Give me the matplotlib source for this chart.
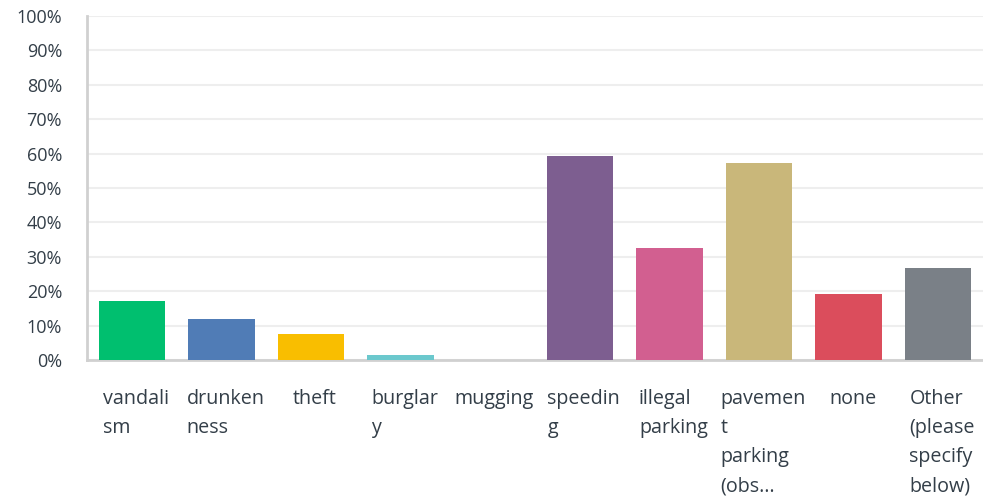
import numpy as np
import matplotlib.pyplot as plt
from matplotlib.ticker import PercentFormatter
from matplotlib.transforms import ScaledTranslation

plt.rcParams['font.family'] = ['Open Sans', 'DejaVu Sans']

# datos
categorias = ["vandali\nsm", "drunken\nness", "theft", "burglar\ny", "mugging",
              "speedin\ng", "illegal\nparking", "pavemen\nt\nparking\n(obs…",
              "none", "Other\n(please\nspecify\nbelow)"]
valores = [17.2, 11.9, 7.6, 1.5, 0.0, 59.3, 32.6, 57.3, 19.2, 26.7]
colores = ["#00BF6F", "#507CB6", "#F9BE00", "#6BC8CD", "#FF8B4F",
           "#7D5E90", "#D25F90", "#C9B77A", "#DB4D5C", "#7A8087"]
yticks = np.arange(0, 101, 10)

fig = plt.figure(figsize=(9.83, 5), dpi=100)
ax = fig.add_axes([87/983, 1 - 360/500, (983 - 87)/983, 344/500])

x = np.arange(len(valores))
ax.bar(x, valores, width=0.74, color=colores, zorder=3)

ax.set_xlim(-0.5, len(valores) - 0.5)
ax.set_ylim(0, 100)
ax.set_yticks(yticks)
ax.yaxis.set_major_formatter(PercentFormatter(decimals=0))
ax.grid(axis='y', color='#EEEEEE', linewidth=1.5, zorder=0)

ax.set_xticks(x)
ax.set_xticklabels(categorias, ha='center', multialignment='left', linespacing=1.6)

for s in ['top', 'right']:
    ax.spines[s].set_visible(False)
for s in ['left', 'bottom']:
    ax.spines[s].set_color('#D0D0D0')
    ax.spines[s].set_linewidth(2)

ax.tick_params(axis='y', length=0, pad=18, labelsize=13, labelcolor='#333E48')
ax.tick_params(axis='x', length=0, pad=21, labelsize=14.2, labelcolor='#333E48')

# las etiquetas del eje x van un poco a la derecha
desplaz = ScaledTranslation(4/100, 0, fig.dpi_scale_trans)
for lab in ax.get_xticklabels():
    lab.set_transform(lab.get_transform() + desplaz)

fig.savefig("out.png", dpi=100)
